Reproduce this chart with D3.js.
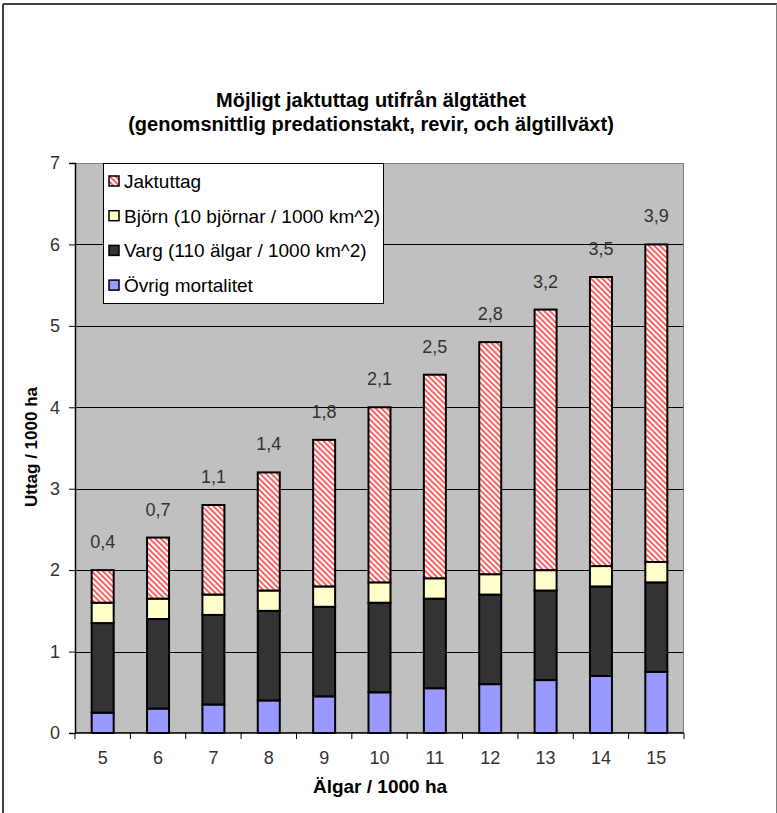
<!DOCTYPE html>
<html><head><meta charset="utf-8">
<script src="https://d3js.org/d3.v7.min.js"></script>
<style>body{margin:0;background:#fff}svg{display:block}text{font-family:"Liberation Sans",Arial,sans-serif}</style>
</head><body>
<script>
const categories = [5,6,7,8,9,10,11,12,13,14,15];
const ovrig = [0.25,0.30,0.35,0.40,0.45,0.50,0.55,0.60,0.65,0.70,0.75];
const varg = [1.1,1.1,1.1,1.1,1.1,1.1,1.1,1.1,1.1,1.1,1.1];
const bjorn = [0.25,0.25,0.25,0.25,0.25,0.25,0.25,0.25,0.25,0.25,0.25];
const jakt = [0.40,0.75,1.10,1.45,1.80,2.15,2.50,2.85,3.20,3.55,3.90];
const jaktLabels = ["0,4","0,7","1,1","1,4","1,8","2,1","2,5","2,8","3,2","3,5","3,9"];
const yTicks = [0,1,2,3,4,5,6,7];
const seriesNames = ["Övrig mortalitet","Varg (110 älgar / 1000 km^2)","Björn (10 björnar / 1000 km^2)","Jaktuttag"];

const W=777,H=813;
const svg=d3.select("body").append("svg").attr("width",W).attr("height",H);
const defs=svg.append("defs");
const pat=defs.append("pattern").attr("id","hatch").attr("patternUnits","userSpaceOnUse")
  .attr("width",4).attr("height",4).attr("patternTransform","rotate(-45)");
pat.append("rect").attr("width",4).attr("height",4).attr("fill","#fff");
pat.append("rect").attr("width",1.8).attr("height",4).attr("fill","#ff5050");

const fills=["#9999ff","#333333","#ffffcc","url(#hatch)"];

// outer frame
svg.append("line").attr("x1",3).attr("y1",4).attr("x2",3).attr("y2",H).attr("stroke","#404040").attr("stroke-width",2);
svg.append("line").attr("x1",3).attr("y1",4).attr("x2",777).attr("y2",4).attr("stroke","#404040").attr("stroke-width",2);
svg.append("line").attr("x1",776.5).attr("y1",4).attr("x2",776.5).attr("y2",H).attr("stroke","#808080").attr("stroke-width",1);

const L=75,R=684,T=163,B=733;
const xb=d3.scaleBand().domain(categories).range([L,R]);
const y=d3.scaleLinear().domain([0,7]).range([B,T]);

svg.append("rect").attr("x",L).attr("y",T).attr("width",R-L).attr("height",B-T).attr("fill","#c0c0c0");
svg.append("g").selectAll("line").data(yTicks.filter(v=>v>0&&v<7)).join("line")
  .attr("x1",L).attr("x2",R).attr("y1",d=>Math.round(y(d))+0.5).attr("y2",d=>Math.round(y(d))+0.5)
  .attr("stroke","#000").attr("stroke-width",1);
svg.append("rect").attr("x",L+0.5).attr("y",T+0.5).attr("width",R-L-1).attr("height",B-T-1).attr("fill","none").attr("stroke","#808080");

// stacked bars
const rows=categories.map((c,i)=>({cat:c,s0:ovrig[i],s1:varg[i],s2:bjorn[i],s3:jakt[i]}));
const stack=d3.stack().keys(["s0","s1","s2","s3"])(rows);
const bw=22;
stack.forEach((layer,k)=>{
  svg.append("g").selectAll("rect").data(layer).join("rect")
    .attr("x",d=>xb(d.data.cat)+xb.bandwidth()/2-bw/2)
    .attr("y",d=>y(d[1]))
    .attr("width",bw)
    .attr("height",d=>y(d[0])-y(d[1]))
    .attr("fill",fills[k]).attr("stroke","#000").attr("stroke-width",2);
});

// data labels
svg.append("g").selectAll("text").data(rows).join("text")
  .attr("x",d=>xb(d.cat)+xb.bandwidth()/2)
  .attr("y",d=>y(d.s0+d.s1+d.s2+d.s3+0.35)+6.5)
  .attr("text-anchor","middle").attr("font-size",18).attr("fill","#333")
  .text((d,i)=>jaktLabels[i]);

// axes
const yAxis=d3.axisLeft(y).tickValues(yTicks).tickSize(6).tickFormat(d3.format("d"));
const gy=svg.append("g").attr("transform",`translate(${L},0)`).call(yAxis);
gy.select(".domain").attr("stroke","#000").attr("stroke-width",1.5);
gy.selectAll(".tick line").attr("stroke","#000");
gy.selectAll(".tick text").attr("font-size",18).attr("fill","#333").attr("x",-15).attr("font-family","Liberation Sans, Arial");

const gx=svg.append("g").attr("transform",`translate(0,${B})`);
gx.append("line").attr("x1",L).attr("x2",R).attr("y1",0).attr("y2",0).attr("stroke","#000").attr("stroke-width",1.5);
const bounds=categories.map(c=>xb(c)).concat([R]);
gx.selectAll("line.t").data(bounds).join("line").attr("class","t")
  .attr("x1",d=>d).attr("x2",d=>d).attr("y1",0).attr("y2",6).attr("stroke","#000");
gx.selectAll("text").data(categories).join("text")
  .attr("x",d=>xb(d)+xb.bandwidth()/2).attr("y",31)
  .attr("text-anchor","middle").attr("font-size",18).attr("fill","#333").text(d=>d);

// titles
svg.append("text").attr("x",371).attr("y",107).attr("text-anchor","middle").attr("font-size",20).attr("font-weight","bold").text("Möjligt jaktuttag utifrån älgtäthet");
svg.append("text").attr("x",371).attr("y",131).attr("text-anchor","middle").attr("font-size",20).attr("font-weight","bold").text("(genomsnittlig predationstakt, revir, och älgtillväxt)");
svg.append("text").attr("x",380).attr("y",793).attr("text-anchor","middle").attr("font-size",19).attr("font-weight","bold").text("Älgar / 1000 ha");
svg.append("text").attr("transform","translate(37,447) rotate(-90)").attr("text-anchor","middle").attr("font-size",17).attr("font-weight","bold").text("Uttag / 1000 ha");

// legend
const lg=svg.append("g");
lg.append("rect").attr("x",103.5).attr("y",163.5).attr("width",280).attr("height",140).attr("fill","#fff").attr("stroke","#000");
const legOrder=[3,2,1,0];
legOrder.forEach((k,i)=>{
  const cy=181+i*34.7;
  lg.append("rect").attr("x",109).attr("y",cy-5).attr("width",10).attr("height",10).attr("fill",fills[k]).attr("stroke","#000").attr("stroke-width",1.5);
  lg.append("text").attr("x",124).attr("y",cy+7).attr("font-size",19).attr("fill","#000").text(seriesNames[k]);
});
</script>
</body></html>
